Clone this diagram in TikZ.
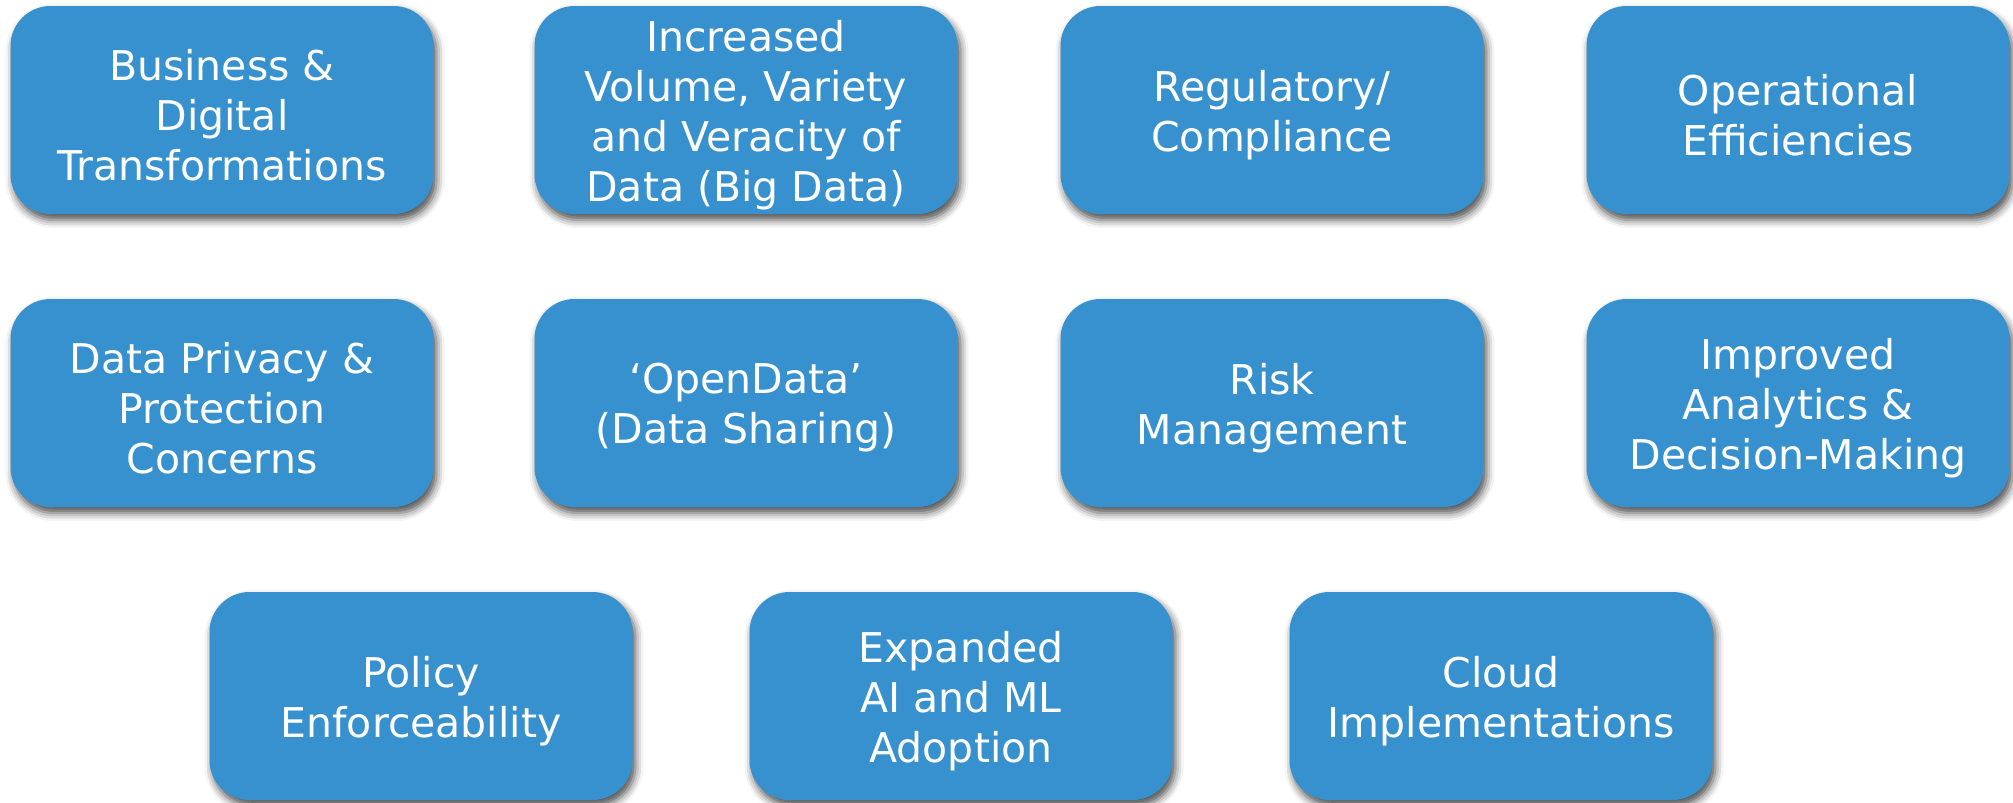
\documentclass[tikz,border=0pt]{standalone}
\usepackage{fontspec}
\setmainfont{DejaVu Sans}
\usetikzlibrary{shadows.blur}
\definecolor{tileblue}{RGB}{55,145,206}
\tikzset{
  tile/.style={
    fill=tileblue, draw=none, rounded corners=40pt,
    minimum width=423pt, minimum height=208pt, inner sep=0pt,
    blur shadow={shadow xshift=3pt, shadow yshift=-6pt,
                 shadow blur radius=8pt, shadow opacity=70}
  },
  tiletext/.style={
    text=white, align=center, inner sep=0pt,
    font=\fontsize{41}{50}\selectfont
  }
}
% a rounded tile with its caption set a little below the centre
\newcommand\tile[3]{%
  \node[tile] (#1) at (#2) {};
  \node[tiletext] (#1-t) at ([yshift=-5pt]#1.center) {#3};}
\begin{document}
\begin{tikzpicture}[x=1pt,y=1pt]
  \useasboundingbox (0,0) rectangle (2013,-803);
  % first row
  \tile{b1}{222,-110}{Business \&\\Digital\\Transformations}
  \tile{b2}{746,-110}{Increased\\Volume, Variety\\and Veracity of\\Data (Big Data)}
  \tile{b3}{1272,-110}{Regulatory/\\Compliance}
  \tile{b4}{1798,-110}{Operational\\Efficiencies}
  % second row
  \tile{b5}{222,-403}{Data Privacy \&\\Protection\\Concerns}
  \tile{b6}{746,-403}{‘OpenData’\\(Data Sharing)}
  \tile{b7}{1272,-403}{Risk\\Management}
  \tile{b8}{1798,-403}{Improved\\Analytics \&\\Decision-Making}
  % third row
  \tile{b9}{421,-696}{Policy\\Enforceability}
  \tile{b10}{961,-696}{Expanded\\AI and ML\\Adoption}
  \tile{b11}{1501,-696}{Cloud\\Implementations}
\end{tikzpicture}
\end{document}
